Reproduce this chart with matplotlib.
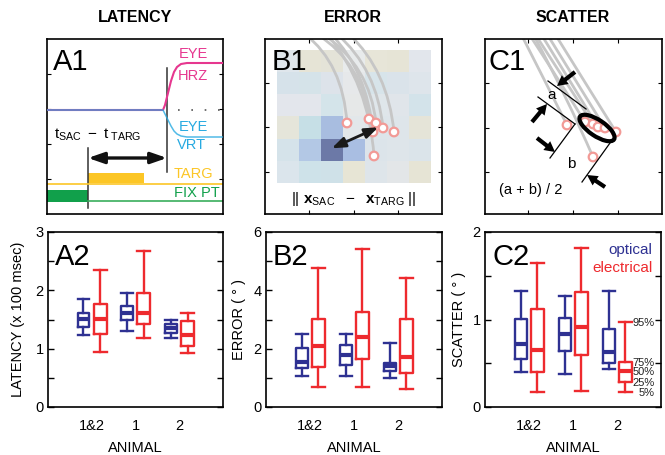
"""
Latency / error / scatter figure: cartoon panels on top (A1, B1, C1),
percentile box plots for optical vs electrical targets below (A2, B2, C2).
"""

import matplotlib
matplotlib.use("Agg")
import matplotlib.pyplot as plt
import matplotlib.colors as mcolors
import numpy as np
from matplotlib.patches import Rectangle, Ellipse, Circle, FancyArrowPatch, PathPatch
from matplotlib.path import Path

plt.rcParams['font.family'] = ['Liberation Sans', 'DejaVu Sans']
plt.rcParams['mathtext.fontset'] = 'custom'
plt.rcParams['mathtext.rm'] = 'Liberation Sans'
plt.rcParams['mathtext.bf'] = 'Liberation Sans:bold'
plt.rcParams['mathtext.it'] = 'Liberation Sans:italic'
plt.rcParams['mathtext.sf'] = 'Liberation Sans'

BLUE = '#2e3192'
RED = '#ee2a2e'
MAGENTA = '#e6378f'
CYAN = '#27aae1'
YELLOW = '#fcc626'
GREEN = '#11a04b'
TRAJ = '#c6c6c6'
PINK = '#f29a96'

# ---- box plot data, percentiles 5 / 25 / 50 / 75 / 95, groups = animals
animals = ['1&2', '1', '2']
latency_optical = [[1.23, 1.38, 1.51, 1.61, 1.85],
                   [1.31, 1.50, 1.61, 1.73, 1.96],
                   [1.18, 1.27, 1.35, 1.42, 1.50]]
latency_electrical = [[0.94, 1.25, 1.51, 1.77, 2.35],
                      [1.18, 1.42, 1.61, 1.96, 2.67],
                      [0.92, 1.04, 1.23, 1.48, 1.62]]
error_optical = [[1.06, 1.33, 1.56, 2.04, 2.50],
                 [1.06, 1.44, 1.79, 2.13, 2.50],
                 [0.98, 1.25, 1.42, 1.52, 2.21]]
error_electrical = [[0.67, 1.38, 2.10, 3.03, 4.76],
                    [0.69, 1.65, 2.39, 3.25, 5.40],
                    [0.63, 1.18, 1.71, 3.02, 4.44]]
scatter_optical = [[0.40, 0.55, 0.72, 1.01, 1.33],
                   [0.38, 0.64, 0.83, 1.02, 1.27],
                   [0.44, 0.50, 0.63, 0.89, 1.33]]
scatter_electrical = [[0.17, 0.40, 0.65, 1.12, 1.65],
                      [0.18, 0.59, 0.92, 1.31, 1.82],
                      [0.17, 0.29, 0.41, 0.52, 0.97]]
pct_names = ['5%', '25%', '50%', '75%', '95%']

# ---- A1 cartoon (panel pixel coords, y pointing down)
eye_t = [0, 116, 118, 121, 124, 127, 130, 134, 140, 176]
hrz_y = [71, 71, 66, 54, 42, 33, 28, 25, 24, 24]
vrt_y = [71, 71, 75, 81, 87, 92, 95, 97, 98, 98]
targ_on = 41
sac_on = 120

# ---- B1 cartoon: error map cells (rows top -> bottom)
err_cells = [
    ['#dfe6ec', '#e6e4d6', '#e4e3d8', '#e8ebec', '#e7e5d8', '#e6e4d6', '#e2e6ec'],
    ['#d6e2ea', '#d5e3e9', '#dde3ea', '#e6e8ea', '#d7e4ea', '#dae3ea', '#dee5eb'],
    ['#e3e6ec', '#e3e6ec', '#d4e4ea', '#e6e8e8', '#dfe6ea', '#e0e5ea', '#d3e3ea'],
    ['#e5e5da', '#c6dfe6', '#a8bde0', '#e2e7ea', '#dde5ea', '#dee5ea', '#e5e4d8'],
    ['#d5e3ea', '#b3c8e5', '#6c79a7', '#a9bee2', '#dce4ea', '#dee5ea', '#dbe4ea'],
    ['#dbe5ec', '#cee2e9', '#cfe1e8', '#e7e5d5', '#dee5ea', '#e3e6e8', '#e6e4d5'],
]
b1_ends = [(82, 84), (104, 80), (111, 84), (108, 93), (118, 89), (129, 93), (109, 117)]
b1_starts = [(40, -5), (52, -5), (58, -5), (66, -5), (72, -5), (84, -5), (62, -5)]
b1_ctrl = [(78, 25), (98, 25), (105, 27), (102, 32), (112, 30), (123, 32), (104, 45)]

# ---- C1 cartoon
c1_ends = [(82, 86), (100, 83), (108, 85), (113, 88), (120, 89), (131, 93), (108, 118)]
c1_starts = [(36, -5), (44, -5), (50, -5), (56, -5), (62, -5), (70, -5), (48, -5)]
c1_ctrl = [(60, 42), (72, 38), (79, 40), (85, 42), (91, 42), (101, 45), (82, 58)]


def box_stats(rows):
    return [dict(whislo=r[0], q1=r[1], med=r[2], q3=r[3], whishi=r[4], fliers=[])
            for r in rows]


def draw_boxes(ax, optical, electrical, top, step, ylabel, label, lab_x):
    pos = np.arange(1, len(animals) + 1)
    for rows, col, off, w in ((optical, BLUE, -0.19, 0.27), (electrical, RED, 0.19, 0.30)):
        ax.bxp(box_stats(rows), positions=pos + off, widths=w, capwidths=w,
               showfliers=False, manage_ticks=False,
               boxprops=dict(color=col, lw=1.7),
               whiskerprops=dict(color=col, lw=1.7),
               capprops=dict(color=col, lw=1.7),
               medianprops=dict(color=col, lw=3.0, solid_capstyle='butt'))
    ax.set_xlim(0, 4)
    ax.set_ylim(0, top)
    yt = np.arange(0, top + 1e-9, step)
    ax.set_yticks(yt)
    ax.set_yticklabels(['%g' % v if abs(v - round(v)) < 1e-9 and
                        (round(v) % (2 if top == 6 else 1) == 0) else '' for v in yt])
    ax.set_xticks(pos)
    ax.set_xticklabels(animals)
    ax.tick_params(axis='y', direction='in', length=4, width=1, right=True,
                   labelsize=10.5, pad=3)
    ax.tick_params(axis='x', length=0, labelsize=10.5, pad=9)
    ax.set_xlabel('ANIMAL', fontsize=10.5)
    ax.xaxis.set_label_coords(0.5, -41 / 175)
    ax.xaxis.label.set_va('center')
    ax.set_ylabel(ylabel, fontsize=10.5)
    ax.yaxis.set_label_coords(lab_x, 0.5)
    ax.yaxis.label.set_va('center')
    for s in ax.spines.values():
        s.set_linewidth(1.2)
    ax.text(0.04, 0.81, label, transform=ax.transAxes, fontsize=21, va='baseline')


def cartoon_axes(fig, rect, w, h, label, lab_x):
    ax = fig.add_axes(rect)
    ax.set_xlim(0, w)
    ax.set_ylim(h, 0)
    for s in ax.spines.values():
        s.set_linewidth(1.2)
    ax.tick_params(direction='in', length=3, width=0.8, top=True, right=True,
                   labelbottom=False, labelleft=False)
    ax.text(lab_x, 0.823, label, transform=ax.transAxes, fontsize=21,
            va='baseline', zorder=10)
    return ax


def trajectories(ax, starts, ctrls, ends):
    for s, c, e in zip(starts, ctrls, ends):
        p = Path([s, c, e], [Path.MOVETO, Path.CURVE3, Path.CURVE3])
        ax.add_patch(PathPatch(p, fc='none', ec=TRAJ, lw=2.0, zorder=2))
    for e in ends:
        ax.add_patch(Circle(e, 4.3, fc='white', ec=PINK, lw=1.6, zorder=3))


def main():
    fig = plt.figure(figsize=(6.65, 4.55), dpi=100)
    W, H = 665.0, 455.0

    # ------------------------------------------------------------ A1
    ax = cartoon_axes(fig, [47 / W, (455 - 214) / H, 176 / W, 175 / H], 176, 175, 'A1', 0.034)
    ax.set_xticks([])
    ax.set_yticks([35, 70, 105, 140])
    ax.plot(eye_t, hrz_y, color=MAGENTA, lw=1.5, zorder=3)
    ax.plot(eye_t, vrt_y, color=CYAN, lw=1.1, alpha=0.8, zorder=3)
    ax.plot([131, 176], [71, 71], color='#555555', lw=1.2, ls=(0, (1, 7)))
    ax.plot([sac_on, sac_on], [29, 133], color='#333333', lw=1.1)
    ax.plot([targ_on, targ_on], [109, 169], color='#333333', lw=1.1)
    ax.add_patch(FancyArrowPatch((targ_on, 119), (sac_on, 119),
                                 arrowstyle='<|-|>,head_length=0.95,head_width=0.33',
                                 mutation_scale=10, lw=2.4, color='#111111',
                                 shrinkA=0, shrinkB=0, zorder=4))
    ax.plot([0, 176], [145, 145], color=YELLOW, lw=1.2)
    ax.add_patch(Rectangle((targ_on, 134), 56, 10, fc=YELLOW, ec='none'))
    ax.add_patch(Rectangle((0, 151), targ_on, 11.5, fc=GREEN, ec='none'))
    ax.plot([targ_on, 176], [162.5, 162.5], color='#3aae5c', lw=1.2)
    ax.text(50.5, 96, r'$\mathrm{t}_{\mathrm{SAC}}\ -\ \mathrm{t}_{\ \mathrm{TARG}}$',
            fontsize=11, ha='center', va='center')
    ax.text(146, 15, 'EYE', color=MAGENTA, fontsize=10.5, ha='center', va='center')
    ax.text(146, 37, 'HRZ', color=MAGENTA, fontsize=10.5, ha='center', va='center')
    ax.text(146, 88.5, 'EYE', color=CYAN, fontsize=10.5, ha='center', va='center')
    ax.text(145, 106, 'VRT', color=CYAN, fontsize=10.5, ha='center', va='center')
    ax.text(146.5, 135, 'TARG', color=YELLOW, fontsize=10.5, ha='center', va='center')
    ax.text(149.5, 154, 'FIX PT', color=GREEN, fontsize=10.5, ha='center', va='center')

    # ------------------------------------------------------------ B1
    ax = cartoon_axes(fig, [265 / W, (455 - 214) / H, 177 / W, 175 / H], 177, 175, 'B1', 0.04)
    ax.set_xticks([44, 88.5, 133])
    ax.set_yticks([44, 88, 133])
    rgb = np.array([[mcolors.to_rgb(c) for c in row] for row in err_cells])
    ax.imshow(rgb, extent=(12, 166, 144, 12), origin='upper', interpolation='nearest',
              aspect='auto', zorder=1)
    ax.set_xlim(0, 177)
    ax.set_ylim(175, 0)
    trajectories(ax, b1_starts, b1_ctrl, b1_ends)
    ax.add_patch(FancyArrowPatch((66.7, 109.3), (113.3, 88.3),
                                 arrowstyle='<|-|>,head_length=0.8,head_width=0.3',
                                 mutation_scale=10, lw=2.0, color='#1a1a1a',
                                 shrinkA=0, shrinkB=0, zorder=5))
    ax.text(89, 160, r'$\mathrm{||}\ \mathbf{x}_{\mathrm{SAC}}\ \ -\ \ \mathbf{x}_{\mathrm{TARG}}\ \mathrm{||}$',
            fontsize=11, ha='center', va='center')

    # ------------------------------------------------------------ C1
    ax = cartoon_axes(fig, [485 / W, (455 - 214) / H, 177 / W, 175 / H], 177, 175, 'C1', 0.017)
    ax.set_xticks([43, 88, 133])
    ax.set_yticks([44, 89, 133])
    trajectories(ax, c1_starts, c1_ctrl, c1_ends)
    ax.add_patch(Ellipse((112, 89), 41, 16, angle=34, fc='none', ec='black', lw=3.0, zorder=6))
    for (x0, y0), (x1, y1) in [((63, 42), (101, 70)), ((53, 58), (90, 85)),
                               ((90, 85), (65, 119)), ((125, 104), (97, 143))]:
        ax.plot([x0, x1], [y0, y1], color='black', lw=0.9, zorder=5)
    for tail, tip in [((90, 33), (72, 47)), ((47, 83), (62, 65)),
                      ((52, 99), (70, 113)), ((120, 148), (102, 136))]:
        ax.add_patch(FancyArrowPatch(tail, tip,
                                     arrowstyle='simple,head_length=0.75,head_width=0.8,tail_width=0.3',
                                     mutation_scale=10, fc='black', ec='none', lw=0,
                                     shrinkA=0, shrinkB=0, zorder=7))
    ax.text(67, 56, 'a', fontsize=11, ha='center', va='center')
    ax.text(86, 125, 'b', fontsize=11, ha='center', va='center')
    ax.text(46, 151, '(a + b) / 2', fontsize=10.5, ha='center', va='center')

    # ------------------------------------------------------------ bottom row
    ax = fig.add_axes([48 / W, (455 - 407) / H, 175 / W, 175 / H])
    draw_boxes(ax, latency_optical, latency_electrical, 3, 0.5,
               'LATENCY (x 100 msec)', 'A2', -0.171)

    ax = fig.add_axes([266 / W, (455 - 407) / H, 176 / W, 175 / H])
    draw_boxes(ax, error_optical, error_electrical, 6, 1,
               'ERROR ( \u00b0 )', 'B2', -0.153)

    ax = fig.add_axes([485 / W, (455 - 407) / H, 176 / W, 175 / H])
    draw_boxes(ax, scatter_optical, scatter_electrical, 2, 0.5,
               'SCATTER ( \u00b0 )', 'C2', -0.148)
    ax.text(3.8, 1.79, 'optical', color=BLUE, fontsize=11, ha='right', va='center')
    ax.text(3.8, 1.59, 'electrical', color=RED, fontsize=11, ha='right', va='center')
    for name, v in zip(pct_names, scatter_electrical[2]):
        ax.text(3.86, v - 0.012, name, fontsize=8, ha='right', va='center', color='#222222')

    # column titles
    for x, t in [(135, 'LATENCY'), (353, 'ERROR'), (573, 'SCATTER')]:
        fig.text(x / W, 1 - 18 / H, t, fontsize=11.5, fontweight='bold', ha='center', va='center')

    fig.savefig('out.png', dpi=100)


if __name__ == '__main__':
    main()
